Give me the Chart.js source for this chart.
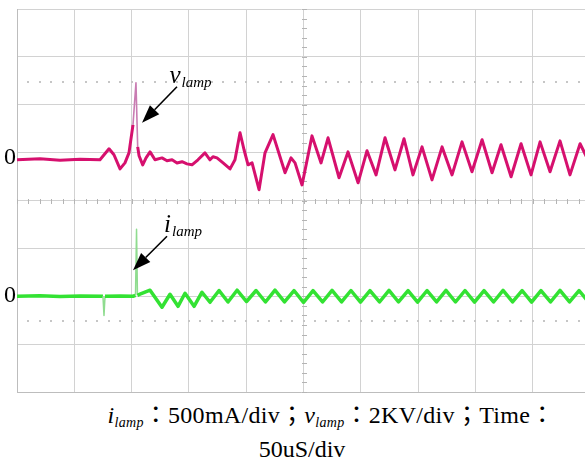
<!DOCTYPE html>
<html>
<head>
<meta charset="utf-8">
<script src="https://cdn.jsdelivr.net/npm/chart.js@4.4.0/dist/chart.umd.min.js"></script>
<style>
    html, body { margin: 0; padding: 0; background: #fff; overflow: hidden; }
    #wrap { position: relative; width: 585px; height: 464px; }
    #scope { position: absolute; left: 0; top: 0; }
    .caption { position: absolute; transform: translateX(-50%); font-family: "Liberation Serif", "Noto Sans CJK TC", serif; font-size: 24px; line-height: 24px; color: #000; white-space: nowrap; }
    .caption sub { font-size: 14px; font-style: italic; vertical-align: -4px; line-height: 0; }
    #cap1 { letter-spacing: 0.3px; }
</style>
</head>
<body>
<div id="wrap">
    <canvas id="scope" width="585" height="400"></canvas>
    <div class="caption" id="cap1" style="left:331px; top:403px;"><i>i</i><sub>lamp</sub>：500mA/div；<i>v</i><sub>lamp</sub>：2KV/div；Time：</div>
    <div class="caption" style="left:302px; top:437px;">50uS/div</div>
</div>
<script>
// time axis in uS (50 uS/div), vlamp in kV (2 kV/div), ilamp in mA (500 mA/div)
const timeTicks = [0, 50, 100, 150, 200, 250, 300, 350, 400, 450];
const divTicks = [-4, -3, -2, -1, 0, 1, 2, 3, 4];

const vTime = [0, 20.1, 37.5, 55.0, 72.4, 80.3, 84.6, 89.9, 94.2, 97.7,
    101.2, 103.8, 105.3, 106.5, 109.7, 112.6, 116.1, 120.4, 126.5, 130.9,
    135.3, 139.6, 144.0, 148.3, 152.7, 157.9, 164.0, 168.4, 171.0, 174.5,
    179.8, 185.9, 190.2, 194.6, 198.1, 201.6, 205.1, 211.2, 216.4, 223.4,
    233.9, 239.1, 242.6, 248.7, 257.4, 265.3, 271.4, 281.0, 288.8, 297.6,
    305.4, 313.3, 321.1, 329.8, 337.7, 345.5, 353.4, 362.1, 370.9, 379.6,
    388.3, 397.0, 405.8, 414.5, 422.3, 431.1, 439.8, 448.5, 456.4, 465.1,
    473.8, 482.5, 491.3, 498.2];
const vValues = [0, 0.04, -0.02, 0.02, 0, 0.46, 0.21, -0.38, -0.13, 0.29,
    1.46, 3.22, 0.54, 0.17, -0.21, 0.08, 0.33, 0, 0.08, -0.04,
    0, -0.13, -0.08, -0.17, -0.21, 0, 0.29, 0, 0.13, 0.08,
    -0.13, -0.38, 0, 1.13, 0.42, -0.21, -0.13, -1.25, 0.29, 1.05,
    -0.54, 0.08, -0.13, -1.05, 1.00, -0.13, 0.92, -0.75, 0.33, -0.96,
    0.38, -0.63, 0.92, -0.42, 0.88, -0.63, 0.54, -0.84, 0.54, -0.63,
    0.75, -0.50, 0.84, -0.54, 0.63, -0.71, 0.67, -0.63, 0.75, -0.50,
    0.79, -0.63, 0.67, 0];

const iTime = [0, 20, 37.5, 55, 75, 75.9, 76.8, 90, 101.2, 103.4,
    104.3, 105.1, 107.3, 116.1, 126.5, 133.5, 140.5, 146.6, 154.5, 161.4,
    168.4, 176.3, 184.1, 192.0, 200.3, 208.6, 216.8, 225.1, 233.4, 241.7,
    250.0, 258.3, 266.6, 274.9, 283.2, 291.4, 299.7, 308.0, 316.3, 324.6,
    332.9, 341.2, 349.5, 357.8, 366.1, 374.3, 382.6, 390.9, 399.2, 407.5,
    415.8, 424.1, 432.4, 440.7, 449.0, 457.2, 465.5, 473.8, 482.1, 490.4,
    498.7];
const iValues = [0, 4, -3, 3, 0, -200, 0, 2, 0, 10,
    700, 10, 21, 63, -115, 21, -105, 31, -105, 42,
    -63, 60, -60, 63, -55, 60, -60, 63, -58, 60,
    -63, 58, -60, 62, -58, 60, -62, 58, -60, 62,
    -60, 58, -62, 60, -58, 62, -60, 60, -62, 58,
    -60, 62, -58, 60, -62, 58, -60, 62, -58, 60,
    -60];

const toPoints = (xs, ys) => xs.map((x, k) => ({ x, y: ys[k] }));

// steep edges (the spikes) come out thin and pale on the scope
const steep = (ctx) => Math.abs(ctx.p1.y - ctx.p0.y) > 8 * Math.max(0.5, Math.abs(ctx.p1.x - ctx.p0.x));

const drawArrow = (ctx, x0, y0, x1, y1) => {
    const ang = Math.atan2(y1 - y0, x1 - x0);
    const len = 18, half = 6.5;
    const bx = x1 - len * Math.cos(ang), by = y1 - len * Math.sin(ang);
    ctx.strokeStyle = '#000';
    ctx.lineWidth = 1.6;
    ctx.beginPath();
    ctx.moveTo(x0, y0);
    ctx.lineTo(bx, by);
    ctx.stroke();
    ctx.fillStyle = '#000';
    ctx.beginPath();
    ctx.moveTo(x1, y1);
    ctx.lineTo(bx + half * Math.sin(ang), by - half * Math.cos(ang));
    ctx.lineTo(bx - half * Math.sin(ang), by + half * Math.cos(ang));
    ctx.closePath();
    ctx.fill();
};

const drawLabel = (ctx, main, sub, x, y) => {
    ctx.fillStyle = '#000';
    ctx.textAlign = 'left';
    ctx.textBaseline = 'alphabetic';
    ctx.font = 'italic 25px "Liberation Serif"';
    ctx.fillText(main, x, y);
    const w = ctx.measureText(main).width;
    ctx.font = 'italic 15px "Liberation Serif"';
    ctx.fillText(sub, x + w + 1, y + 4);
};

const scopeDecor = {
    id: 'scopeDecor',
    beforeDatasetsDraw(chart) {
        const { ctx, scales: { x, y } } = chart;
        const cx = Math.round(x.getPixelForValue(250));
        const cy = Math.round(y.getPixelForValue(0));
        ctx.save();
        // minor ticks on the centre cross
        ctx.fillStyle = '#b4b4b4';
        for (let k = 0; k * 10 <= x.max; k++) {
            ctx.fillRect(Math.round(x.getPixelForValue(k * 10)), cy - 2, 1, 5);
        }
        for (let k = -20; k <= 20; k++) {
            ctx.fillRect(cx - 2, Math.round(y.getPixelForValue(k / 5)), 5, 1);
        }
        // dotted reference lines
        ctx.fillStyle = '#c6c6c6';
        [2.5, -2.5].forEach(d => {
            const py = Math.round(y.getPixelForValue(d));
            for (let k = 1; k * 10 <= x.max; k++) {
                ctx.fillRect(Math.round(x.getPixelForValue(k * 10)) - 1, py, 2, 2);
            }
        });
        ctx.restore();
    },
    afterDatasetsDraw(chart) {
        const { ctx, chartArea: a, scales: { x, v, i } } = chart;
        ctx.save();
        // zero markers
        ctx.fillStyle = '#000';
        ctx.font = '24px "Liberation Serif"';
        ctx.textAlign = 'right';
        ctx.textBaseline = 'alphabetic';
        ctx.fillText('0', a.left - 1, v.getPixelForValue(0) + 4);
        ctx.fillText('0', a.left - 1, i.getPixelForValue(0) + 6);
        // trace names and arrows
        drawLabel(ctx, 'v', 'lamp', x.getPixelForValue(133), v.getPixelForValue(3.22));
        drawArrow(ctx, x.getPixelForValue(139.6), v.getPixelForValue(3.05), x.getPixelForValue(109.1), v.getPixelForValue(1.55));
        drawLabel(ctx, 'i', 'lamp', x.getPixelForValue(128.3), i.getPixelForValue(669));
        drawArrow(ctx, x.getPixelForValue(130.9), i.getPixelForValue(627), x.getPixelForValue(101.2), i.getPixelForValue(272));
        ctx.restore();
    }
};

const gridScale = (ticks) => ({
    afterBuildTicks: (s) => { s.ticks = ticks.map(value => ({ value })); },
    ticks: { display: false },
    grid: { color: '#d2d2d2', lineWidth: 1, drawTicks: false },
    border: { display: true, color: '#bdbdbd' }
});

new Chart(document.getElementById('scope'), {
    type: 'line',
    data: {
        datasets: [{
            label: 'vlamp',
            data: toPoints(vTime, vValues),
            yAxisID: 'v',
            borderColor: '#d6106e',
            borderWidth: 3,
            pointRadius: 0,
            tension: 0,
            borderJoinStyle: 'round',
            segment: {
                borderColor: c => steep(c) ? '#c97cb2' : undefined,
                borderWidth: c => steep(c) ? 1.6 : undefined
            }
        }, {
            label: 'ilamp',
            data: toPoints(iTime, iValues),
            yAxisID: 'i',
            borderColor: '#33e233',
            borderWidth: 3.5,
            pointRadius: 0,
            tension: 0,
            borderJoinStyle: 'round',
            segment: {
                borderColor: c => steep(c) ? '#8fdc8f' : undefined,
                borderWidth: c => steep(c) ? 1.5 : undefined
            }
        }]
    },
    options: {
        responsive: false,
        animation: false,
        devicePixelRatio: 1,
        layout: { padding: { left: 17, top: 9, right: 0, bottom: 8 } },
        plugins: { legend: { display: false }, tooltip: { enabled: false } },
        scales: {
            x: { type: 'linear', min: 0, max: 495.6, ...gridScale(timeTicks) },
            y: { position: 'left', min: -4, max: 4, ...gridScale(divTicks) },
            v: { display: false, min: -9.7, max: 6.3 },
            i: { display: false, min: -1000, max: 3000 }
        }
    },
    plugins: [scopeDecor]
});
</script>
</body>
</html>
